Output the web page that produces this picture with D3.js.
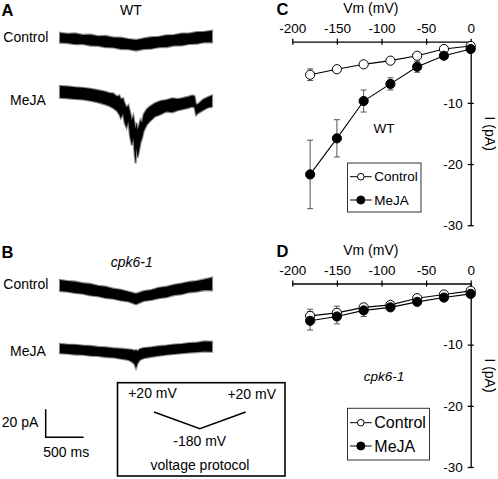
<!DOCTYPE html>
<html><head><meta charset="utf-8">
<script src="https://cdn.jsdelivr.net/npm/d3@7"></script>
<style>body{margin:0;background:#fff} svg text{font-family:"Liberation Sans",Arial,sans-serif;fill:#000}</style>
</head><body><svg id="fig" width="498" height="479"></svg>
<script>
// ---------- I-V data (panels C, D) ----------
const voltages = [-180, -150, -120, -90, -60, -30, 0];
const wtControl = [-5.4, -4.5, -3.7, -3.1, -2.3, -1.2, -0.7];
const wtControlErr = [0.95, 0.4, 0.3, 0.3, 0.3, 0.3, 0.3];
const wtMeJA = [-21.7, -15.8, -9.7, -6.9, -4.1, -2.3, -1.2];
const wtMeJAErr = [5.6, 3.05, 1.8, 1.0, 0.9, 0.4, 0.2];
const cpkControl = [-5.3, -4.8, -3.9, -3.5, -2.4, -1.8, -1.2];
const cpkControlErr = [1.1, 1.1, 0.6, 0.5, 0.4, 0.3, 0.3];
const cpkMeJA = [-6.1, -5.4, -4.4, -3.9, -3.0, -2.3, -1.7];
const cpkMeJAErr = [1.5, 1.2, 1.0, 0.5, 0.4, 0.3, 0.3];
const vmTicks = [-200, -150, -100, -50, 0];
const iTicks = [-10, -20, -30];
const seriesNames = ["Control", "MeJA"];

// ---------- current traces (panels A, B): time (ms), upper / lower envelope (pA) ----------
const t100 = [0,100,200,300,400,500,600,700,800,900,1000,1100,1200,1300,1400,1500,1600,1700,1800,1900,2000];
const wtCtrlHi = [3.6,3.0,3.3,2.2,2.4,1.3,1.5,0.4,0.2,-0.8,-1.4,-0.3,0.6,0.9,1.9,2.1,3.2,3.3,4.3,4.4,5.2];
const wtCtrlLo = [-3.3,-3.6,-4.4,-4.3,-5.4,-5.6,-6.6,-6.8,-7.9,-8.0,-9.0,-7.9,-7.6,-6.6,-6.5,-5.4,-5.3,-4.3,-4.1,-3.0,-3.1];
const wtMeJATime = [0,100,200,300,400,500,600,650,700,750,780,800,830,850,875,900,920,945,965,985,995,1005,1020,1040,1060,1080,1100,1140,1180,1250,1320,1400,1480,1550,1600,1680,1740,1770,1790,1820,1880,1950,2000];
const wtMeJAHi = [4.3,4.0,3.4,3.0,2.3,1.3,0.2,-0.8,-1.0,-3.2,-2.5,-5.0,-4.5,-8.0,-11.0,-9.5,-14.0,-20.0,-17.0,-23.5,-26.0,-22.0,-27.0,-24.0,-20.0,-22.0,-16.0,-12.5,-10.5,-8.0,-6.5,-5.8,-4.5,-5.0,-4.5,-3.5,-2.5,-3.0,-9.0,-8.5,-5.5,-3.5,-2.5];
const wtMeJALo = [-4.1,-4.5,-5.0,-5.3,-6.2,-7.4,-9.0,-10.0,-11.5,-13.5,-16.0,-18.5,-15.5,-22.0,-25.5,-21.0,-31.0,-38.0,-33.0,-46.0,-51.0,-40.0,-47.0,-42.0,-36.0,-33.0,-28.0,-23.5,-21.0,-17.5,-16.0,-14.0,-14.5,-13.0,-12.5,-11.5,-10.5,-11.0,-16.5,-15.0,-13.0,-11.0,-10.5];
const cpkCtrlHi = [3.8,3.0,2.6,1.5,1.0,-0.4,-1.0,-2.4,-3.2,-4.6,-6.0,-4.2,-3.4,-1.8,-1.0,0.4,1.2,2.4,3.0,4.2,5.4];
const cpkCtrlLo = [-4.0,-4.6,-5.5,-6.0,-7.2,-7.8,-9.0,-9.6,-10.8,-11.5,-13.5,-11.2,-10.5,-9.2,-8.5,-7.0,-6.4,-5.0,-4.5,-3.4,-3.6];
const cpkMeJATime = [0,100,200,300,400,500,600,700,800,900,950,980,1000,1020,1050,1100,1200,1300,1400,1500,1600,1700,1800,1900,2000];
const cpkMeJAHi = [3.4,3.0,2.8,2.2,2.0,1.3,1.0,0.4,0.0,-0.5,-0.8,-1.5,-1.0,-1.8,-0.3,0.5,1.0,1.8,2.2,3.0,3.3,4.0,4.3,5.2,5.0];
const cpkMeJALo = [-3.3,-3.6,-4.2,-4.3,-5.0,-5.2,-6.0,-6.3,-7.2,-8.0,-9.5,-11.0,-13.8,-10.5,-8.0,-6.8,-5.8,-5.0,-4.3,-3.8,-3.2,-2.8,-2.4,-2.0,-2.1];
// voltage protocol
const protoTime = [0, 1000, 2000];
const protoV = [20, -180, 20];

const svg = d3.select("#fig");

// ---------- traces ----------
const tScale = d3.scaleLinear().domain([0, 2000]).range([60, 212]);
const iScale = d3.scaleLinear().domain([0, -20]).range([0, 28]);
function trace(times, hi, lo, yRef) {
  const g = svg.append("g").attr("transform", `translate(0,${yRef})`);
  const area = d3.area()
    .x((d, i) => tScale(times[i]))
    .y0((d, i) => iScale(lo[i]))
    .y1((d, i) => iScale(hi[i]))
    .curve(d3.curveLinear);
  g.append("path").datum(times).attr("d", area)
    .attr("fill", "#000").attr("stroke", "#8a8a8a").attr("stroke-width", 2.2).attr("stroke-linejoin", "miter");
  g.append("path").datum(times).attr("d", area).attr("fill", "#000");
}
trace(t100, wtCtrlHi, wtCtrlLo, 38);
trace(wtMeJATime, wtMeJAHi, wtMeJALo, 92);
trace(t100, cpkCtrlHi, cpkCtrlLo, 285.3);
trace(cpkMeJATime, cpkMeJAHi, cpkMeJALo, 348.7);

function txt(x, y, s, size, opts = {}) {
  const t = svg.append("text").attr("x", x).attr("y", y).attr("dy", "0.35em")
    .attr("font-size", size).attr("text-anchor", opts.anchor || "start").text(s);
  if (opts.bold) t.attr("font-weight", "bold");
  if (opts.italic) t.attr("font-style", "italic");
  if (opts.rotate) t.attr("transform", `rotate(${opts.rotate},${x},${y})`);
  return t;
}
// panel letters
txt(1.5, 10.5, "A", 16.5, {bold: true});
txt(1.5, 252.5, "B", 16.5, {bold: true});
txt(276.5, 9.5, "C", 16.5, {bold: true});
txt(276.5, 251.5, "D", 16.5, {bold: true});
// trace labels
txt(131, 10, "WT", 14, {anchor: "middle"});
txt(131.7, 261.7, "cpk6-1", 14, {anchor: "middle", italic: true});
txt(3.3, 36.7, "Control", 14);
txt(10, 100, "MeJA", 14);
txt(3.3, 284, "Control", 14);
txt(10, 350.7, "MeJA", 14);

// scale bar
const sbX = 45.7, sbY = 437.3;
svg.append("path")
  .attr("d", `M${sbX},${sbY - (iScale(-20) - iScale(0))}V${sbY}H${sbX + tScale(500) - tScale(0)}`)
  .attr("fill", "none").attr("stroke", "#000").attr("stroke-width", 1.5);
txt(1.7, 421.7, "20 pA", 14);
txt(43.3, 452.3, "500 ms", 14);

// voltage protocol box
svg.append("rect").attr("x", 117.5).attr("y", 382.7).attr("width", 167.5).attr("height", 93.3)
  .attr("fill", "none").attr("stroke", "#000").attr("stroke-width", 1.6);
const pX = d3.scaleLinear().domain([0, 2000]).range([154, 245.7]);
const pY = d3.scaleLinear().domain([20, -180]).range([412, 428.7]);
svg.append("path").datum(protoTime)
  .attr("d", d3.line().x((d) => pX(d)).y((d, i) => pY(protoV[i])))
  .attr("fill", "none").attr("stroke", "#000").attr("stroke-width", 1.5);
txt(152.5, 393.3, "+20 mV", 14, {anchor: "middle"});
txt(251.7, 394.5, "+20 mV", 14, {anchor: "middle"});
txt(199.7, 440.7, "-180 mV", 14, {anchor: "middle"});
txt(200, 465, "voltage protocol", 14, {anchor: "middle"});

// ---------- I-V panels ----------
const xV = d3.scaleLinear().domain([-200, 0]).range([292.3, 470.7]);
function ivPanel(y0, ctrl, ctrlErr, mej, mejErr, note, noteItalic, noteY, leg) {
  const y = d3.scaleLinear().domain([0, -30]).range([y0, y0 + 183.5]);
  const g = svg.append("g");
  const ax = g.append("g").attr("transform", `translate(0,${y0})`)
    .call(d3.axisTop(xV).tickValues(vmTicks).tickSizeInner(3).tickSizeOuter(0).tickPadding(6).tickFormat(d => String(d)));
  ax.selectAll(".tick line").attr("y1", 3).attr("y2", -3);
  const ay = g.append("g").attr("transform", `translate(${xV(0)},0)`)
    .call(d3.axisLeft(y).tickValues(iTicks).tickSizeInner(3).tickSizeOuter(0).tickPadding(5).tickFormat(d => String(d)));
  ay.selectAll(".tick line").attr("x1", 3).attr("x2", -3);
  [ax, ay].forEach(a => {
    a.select(".domain").attr("stroke", "#000").attr("stroke-width", 1.3);
    a.selectAll(".tick line").attr("stroke", "#000").attr("stroke-width", 1.3);
    a.selectAll(".tick text").attr("font-size", 13.5).attr("fill", "#000")
      .attr("font-family", '"Liberation Sans",Arial,sans-serif');
  });
  txt(370.8, y0 - 33.5, "Vm (mV)", 14, {anchor: "middle"});
  txt(490, y0 + 92, "I (pA)", 14, {anchor: "middle", rotate: 90});
  txt(384, y0 + noteY, note, 13.5, {anchor: "middle", italic: noteItalic});

  const line = d3.line().x((d, i) => xV(voltages[i])).y(d => y(d));
  const series = [[ctrl, ctrlErr, "#fff"], [mej, mejErr, "#000"]];
  series.forEach(([vals, errs]) => {
    vals.forEach((v, i) => {
      const cx = xV(voltages[i]);
      g.append("path")
        .attr("d", `M${cx},${y(v + errs[i])}V${y(v - errs[i])}M${cx - 3},${y(v + errs[i])}h6M${cx - 3},${y(v - errs[i])}h6`)
        .attr("stroke", "#555").attr("stroke-width", 1).attr("fill", "none");
    });
  });
  series.forEach(([vals, errs, fill]) => {
    g.append("path").datum(vals).attr("d", line).attr("fill", "none").attr("stroke", "#000").attr("stroke-width", 1.1);
    g.selectAll(null).data(vals).enter().append("circle")
      .attr("cx", (d, i) => xV(voltages[i])).attr("cy", d => y(d)).attr("r", 4.6)
      .attr("fill", fill).attr("stroke", "#000").attr("stroke-width", 1);
  });
  // legend
  g.append("rect").attr("x", 347.5).attr("y", leg.y).attr("width", leg.w).attr("height", leg.h)
    .attr("fill", "#fff").attr("stroke", "#333").attr("stroke-width", 1);
  seriesNames.forEach((name, k) => {
    const ry = leg.y + leg.r0 + k * 23.3;
    g.append("line").attr("x1", 350).attr("x2", 371.7).attr("y1", ry).attr("y2", ry).attr("stroke", "#000").attr("stroke-width", 1);
    g.append("circle").attr("cx", 360.8).attr("cy", ry).attr("r", k ? 4 : 3.3)
      .attr("fill", k ? "#000" : "#fff").attr("stroke", "#000").attr("stroke-width", 1);
    txt(374.3, ry, name, leg.fs);
  });
}
ivPanel(41.7, wtControl, wtControlErr, wtMeJA, wtMeJAErr, "WT", false, 86.3, {y: 163, w: 73.5, h: 49, r0: 13.7, fs: 13.5});
ivPanel(283.5, cpkControl, cpkControlErr, cpkMeJA, cpkMeJAErr, "cpk6-1", true, 93.2, {y: 408.3, w: 82, h: 51.7, r0: 14.4, fs: 16});
</script></body></html>
